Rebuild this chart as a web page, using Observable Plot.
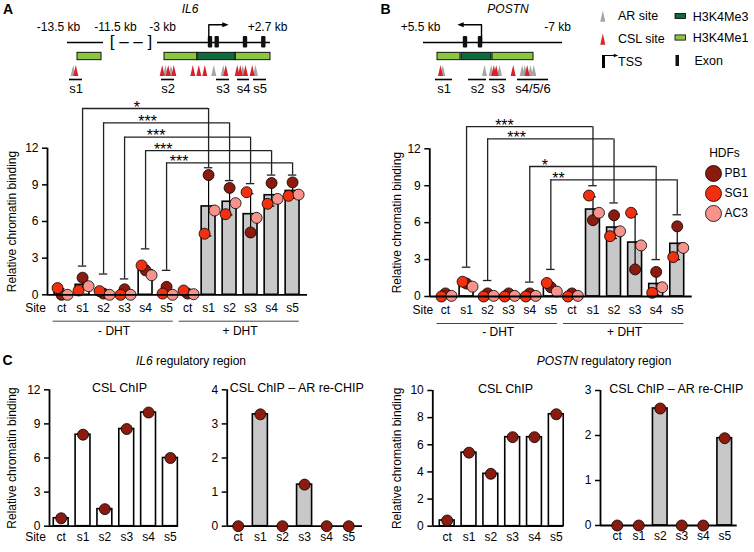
<!DOCTYPE html>
<html><head><meta charset="utf-8">
<script src="https://cdn.jsdelivr.net/npm/d3@7"></script>
<script src="https://cdn.jsdelivr.net/npm/@observablehq/plot@0.6"></script>
<style>
body{margin:0;background:#fff}
#fig{position:relative;width:754px;height:552px;font-family:"Liberation Sans",Arial,Helvetica,sans-serif;color:#000;overflow:hidden;background:#fff}
.lbl{position:absolute;font-size:12px;white-space:nowrap;line-height:1;transform:translate(-50%,-50%)}
.letter{font-weight:bold;font-size:14px}
svg g[aria-label="y-axis tick"] path{stroke-width:1.5}
</style></head><body><div id="fig"></div>
<script>
// ---------------- data ----------------
const donors = ["PB1", "SG1", "AC3"];
const donorColors = ["#8b1a0f", "#f2300f", "#f6938c"];
const sites = ["ct", "s1", "s2", "s3", "s4", "s5"];
const treatments = ["- DHT", "+ DHT"];

// Panel A: IL6, per donor; order -DHT ct..s5, +DHT ct..s5
const il6PB1 = [0.0, 1.4, 0.1, 0.45, 2.0, 0.65, 0.1, 9.8, 8.75, 5.1, 9.15, 9.2];
const il6SG1 = [0.55, 0.35, 0.3, 0.0, 2.4, 0.1, 0.35, 5.0, 6.6, 8.4, 7.45, 8.1];
const il6AC3 = [0.0, 0.7, 0.0, 0.0, 1.6, 0.0, 0.05, 6.9, 7.5, 6.3, 7.85, 8.2];
const il6BracketSites = [1, 2, 3, 4, 5];
const il6BracketTop = [15.25, 14.07, 12.9, 11.8, 10.8];
const il6CapMinus = [2.35, 1.7, 1.3, 3.76, 2.0];
const il6CapPlus = [10.4, 9.35, 9.1, 9.8, 9.8];
const il6Stars = ["*", "***", "***", "***", "***"];
const il6StarPos = [0.43, 0.35, 0.25, 0.14, 0.1];

// Panel B: POSTN
const postnPB1 = [0.25, 1.05, 0.25, 0.25, 0.25, 0.75, 0.25, 6.2, 6.6, 2.2, 2.0, 5.7];
const postnSG1 = [0.0, 1.2, 0.0, 0.0, 0.0, 1.1, 0.0, 8.2, 4.9, 6.8, 0.3, 3.2];
const postnAC3 = [0.05, 0.8, 0.05, 0.05, 0.05, 0.4, 0.05, 6.8, 5.3, 4.15, 0.75, 3.95];
const postnBracketSites = [1, 2, 4, 5];
const postnBracketTop = [13.8, 12.8, 10.56, 9.48];
const postnCapMinus = [2.38, 1.3, 1.17, 2.2];
const postnCapPlus = [9.0, 7.6, 3.0, 6.64];
const postnStars = ["***", "***", "*", "**"];
const postnStarPos = [0.3, 0.23, 0.12, 0.06];

const dhtTicks = [0, 3, 6, 9, 12];

// Panel C
const cIl6Csl = [0.7, 8.05, 1.5, 8.55, 10.0, 6.0];
const cIl6Re = [0, 3.28, 0, 1.22, 0, 0];
const cPostnCsl = [0.42, 5.42, 3.86, 6.56, 6.56, 8.25];
const cPostnRe = [0, 0, 2.6, 0, 0, 1.94];
const cIl6CslTicks = [0, 3, 6, 9, 12];
const cIl6ReTicks = [0, 1, 2, 3, 4];
const cPostnCslTicks = [0, 2, 4, 6, 8, 10];
const cPostnReTicks = [0, 1, 2, 3];

// Gene schematics (schematic positions along the drawn locus)
const il6Backbone = [[67, 103], [157, 270]];
const il6Exons = [210, 216.7, 245, 263.3];
const il6Boxes = [{x1: 77, x2: 101, m: "H3K4Me1"}, {x1: 164, x2: 197, m: "H3K4Me1"}, {x1: 197, x2: 235, m: "H3K4Me3"}, {x1: 235, x2: 270, m: "H3K4Me1"}];
const il6AR = [72.7, 165, 170.5, 213.3, 222.7, 242.3, 255];
const il6CSL = [75.3, 161.7, 167.7, 173.3, 192.3, 198.3, 204.3, 225.3, 236.7, 239.8, 245, 251.7];
const il6Amplicons = [{n: "s1", x1: 69, x2: 82}, {n: "s2", x1: 161, x2: 174}, {n: "s3", x1: 216, x2: 229}, {n: "s4", x1: 237, x2: 249}, {n: "s5", x1: 253, x2: 266}];
const il6Coords = [{t: "-13.5 kb", x: 58}, {t: "-11.5 kb", x: 115}, {t: "-3 kb", x: 162}, {t: "+2.7 kb", x: 267}];
const il6Tss = [{x: 208.3, y: 41}, {x: 208.3, y: 24.3}, {x: 225, y: 24.3}];

const postnBackbone = [[423, 562]];
const postnExons = [465, 480];
const postnBoxes = [{x1: 437, x2: 460, m: "H3K4Me1"}, {x1: 461, x2: 491, m: "H3K4Me3"}, {x1: 492, x2: 533, m: "H3K4Me1"}];
const postnAR = [442.3, 484, 490.7, 499, 521.7, 524.3, 530, 533.3];
const postnCSL = [440, 493.3, 495.7, 512.7, 526.7];
const postnAmplicons = [{n: "s1", x1: 435, x2: 452}, {n: "s2", x1: 468, x2: 486}, {n: "s3", x1: 489, x2: 506}, {n: "s4/5/6", x1: 517, x2: 548}];
const postnCoords = [{t: "+5.5 kb", x: 420}, {t: "-7 kb", x: 557}];
const postnTss = [{x: 481, y: 41}, {x: 481, y: 24.3}, {x: 460, y: 24.3}];

// ---------------- helpers ----------------
const fig = document.getElementById("fig");
const FONT = '"Liberation Sans", Arial, Helvetica, sans-serif';
const baseStyle = {background: "transparent", fontSize: "12px", fontFamily: FONT, overflow: "visible", color: "black"};
function place(node, left, top, w) {
  const div = document.createElement("div");
  div.style.cssText = `position:absolute;left:${left}px;top:${top}px;width:${w}px`;
  div.appendChild(node);
  fig.appendChild(div);
}
function label(html, x, y, cls = "") {
  const s = document.createElement("div");
  s.className = "lbl " + cls;
  s.style.left = x + "px"; s.style.top = y + "px";
  s.innerHTML = html;
  fig.appendChild(s);
}
const tallTriangle = {draw(ctx, size) { const r = Math.sqrt(size / Math.PI); ctx.moveTo(0, -r); ctx.lineTo(0.45 * r, r); ctx.lineTo(-0.45 * r, r); ctx.closePath(); }};
const headRight = {draw(ctx, size) { const r = Math.sqrt(size / Math.PI); ctx.moveTo(r, 0); ctx.lineTo(-r, -0.8 * r); ctx.lineTo(-r, 0.8 * r); ctx.closePath(); }};
const headLeft = {draw(ctx, size) { const r = Math.sqrt(size / Math.PI); ctx.moveTo(-r, 0); ctx.lineTo(r, -0.8 * r); ctx.lineTo(r, 0.8 * r); ctx.closePath(); }};
const GREY = "#c8c8c8", DARKG = "#0f6b3c", LIGHTG = "#8cc63e", ARC = "#a5a5a5", CSLC = "#d9232b";
const dotDx = [0, -4, 6];
const fmt = d => String(d);

// ---------------- panels A/B ----------------
function dhtChart(vals, br, L) {
  const idx = d3.range(12);
  const mean = idx.map(i => d3.mean(vals, v => v[i]));
  const sd = idx.map(i => d3.deviation(vals.map(v => v[i])));
  const yMax = dhtTicks[dhtTicks.length - 1];
  return Plot.plot({
    width: L.width, height: L.height,
    marginLeft: L.ml, marginRight: L.mr, marginTop: L.mt, marginBottom: L.mb,
    x: {domain: L.xd, axis: null},
    y: {domain: [0, yMax], ticks: dhtTicks, tickFormat: fmt, tickSize: 5, tickPadding: 4, label: null},
    style: baseStyle,
    marks: [
      Plot.rectY(idx.slice(0, 6), {x1: i => i - 0.33, x2: i => i + 0.33, y1: 0, y2: i => mean[i], fill: "white", stroke: "black", strokeWidth: 1.6}),
      Plot.rectY(idx.slice(6), {x1: i => i - 0.33, x2: i => i + 0.33, y1: 0, y2: i => mean[i], fill: GREY, stroke: "black", strokeWidth: 1.6}),
      Plot.ruleX(idx, {x: i => i, y1: i => Math.max(0, mean[i] - sd[i]), y2: i => mean[i] + sd[i], strokeWidth: 1.2}),
      Plot.ruleY(idx, {y: i => mean[i] + sd[i], x1: i => i - 0.16, x2: i => i + 0.16, strokeWidth: 1.2}),
      Plot.ruleY(idx.slice(6), {y: i => Math.max(0, mean[i] - sd[i]), x1: i => i - 0.16, x2: i => i + 0.16, strokeWidth: 1.2}),
      // significance brackets
      Plot.ruleY(br, {y: d => d.top, x1: d => d.s, x2: d => d.s + 6, stroke: "#222", strokeWidth: 1.3}),
      Plot.ruleX(br, {x: d => d.s, y1: d => d.c1, y2: d => d.top, stroke: "#222", strokeWidth: 1.3}),
      Plot.ruleX(br, {x: d => d.s + 6, y1: d => d.c2, y2: d => d.top, stroke: "#222", strokeWidth: 1.3}),
      Plot.ruleY(br, {y: d => d.c1, x1: d => d.s - 0.2, x2: d => d.s + 0.2, stroke: "#222", strokeWidth: 1.3}),
      Plot.ruleY(br, {y: d => d.c2, x1: d => d.s + 5.8, x2: d => d.s + 6.2, stroke: "#222", strokeWidth: 1.3}),
      Plot.text(br, {x: d => d.s + d.f * 6, y: d => d.top, text: d => d.star, fontSize: 16, dy: -1}),
      // donors
      ...donors.map((d, k) => Plot.dot(idx, {x: i => i, y: i => vals[k][i], r: 5.5, fill: donorColors[k], stroke: "black", strokeWidth: 0.8, dx: dotDx[k]})),
      // axes
      Plot.ruleY([0], {strokeWidth: 1.8}),
      Plot.ruleX([L.xd[0]], {y1: 0, y2: yMax, strokeWidth: 1.8}),
      Plot.text(idx, {x: i => i, text: i => sites[i % 6], frameAnchor: "bottom", dy: 17.4}),
      Plot.text(["Site"], {frameAnchor: "bottom-left", textAnchor: "middle", dx: L.siteDx, dy: 17.4}),
      Plot.ruleY(treatments, {y: 0, x1: (t, k) => k * 6 - 0.4, x2: (t, k) => k * 6 + 5.32, dy: L.lineDy, stroke: "#444", strokeWidth: 1}),
      Plot.text(treatments, {x: (t, k) => k * 6 + 2.5, y: 0, text: t => t, dy: L.labDy}),
      Plot.text(["Relative chromatin binding"], {frameAnchor: "left", textAnchor: "middle", dx: L.ylabDx, rotate: -90})
    ]
  });
}
function brackets(sitesIdx, top, c1, c2, stars, pos) {
  return sitesIdx.map((s, k) => ({s, top: top[k], c1: c1[k], c2: c2[k], star: stars[k], f: pos[k]}));
}

place(dhtChart([il6PB1, il6SG1, il6AC3],
  brackets(il6BracketSites, il6BracketTop, il6CapMinus, il6CapPlus, il6Stars, il6StarPos),
  {width: 330, height: 250, ml: 47, mr: 23, mt: 52.7, mb: 50.7, xd: [-0.67, 11.71], siteDx: -12, ylabDx: -35, lineDy: 26.4, labDy: 36.7}), 0, 95, 330);

place(dhtChart([postnPB1, postnSG1, postnAC3],
  brackets(postnBracketSites, postnBracketTop, postnCapMinus, postnCapPlus, postnStars, postnStarPos),
  {width: 322, height: 250, ml: 49.3, mr: 10.3, mt: 48.3, mb: 54, xd: [-0.745, 11.71], siteDx: -7, ylabDx: -32.6, lineDy: 27, labDy: 36}), 380, 100, 322);

// HDF legend
place(Plot.plot({
  width: 59, height: 85, marginLeft: 18, marginRight: 0, marginTop: 0, marginBottom: 0,
  y: {domain: [-1, 2], range: [13, 73], axis: null},
  style: baseStyle,
  marks: [
    Plot.text(["HDFs"], {y: () => -1, frameAnchor: "left", textAnchor: "middle", dx: 11}),
    ...donors.map((d, k) => Plot.dot([d], {y: () => k, frameAnchor: "left", r: 8, fill: donorColors[k], stroke: "black", strokeWidth: 0.8})),
    Plot.text(donors, {y: (d, k) => k, text: d => d, frameAnchor: "left", dx: 11, textAnchor: "start"})
  ]
}), 695, 140, 59);

// ---------------- gene schematics + legend ----------------
function geneMarks(g) {
  return [
    Plot.ruleY(g.backbone, {y: 42, x1: d => d[0], x2: d => d[1], strokeWidth: 1.4}),
    Plot.rect(g.exons, {x1: d => d - 2.2, x2: d => d + 2.2, y1: 36, y2: 47.5, fill: "#111", rx: 1}),
    Plot.line(g.tss, {x: "x", y: "y", strokeWidth: 1.4}),
    Plot.dot([g.tss[2]], {x: "x", y: "y", r: 3.2, symbol: g.head, fill: "black"}),
    Plot.rect(g.boxes, {filter: d => d.m === "H3K4Me1", x1: "x1", x2: "x2", y1: 52.3, y2: 59.7, fill: LIGHTG, stroke: "black", strokeWidth: 0.9}),
    Plot.rect(g.boxes, {filter: d => d.m === "H3K4Me3", x1: "x1", x2: "x2", y1: 52.3, y2: 59.7, fill: DARKG, stroke: "black", strokeWidth: 0.9}),
    Plot.dot(g.ar, {x: d => d, y: 70, r: 5.6, symbol: tallTriangle, fill: ARC}),
    Plot.dot(g.csl, {x: d => d, y: 70, r: 5.6, symbol: tallTriangle, fill: CSLC}),
    Plot.ruleY(g.amps, {y: 79, x1: "x1", x2: "x2", strokeWidth: 1.6}),
    Plot.text(g.amps, {x: d => (d.x1 + d.x2) / 2, y: 88.5, text: "n", fontSize: 13}),
    Plot.text(g.coords, {x: "x", y: 26.5, text: "t", fontSize: 12})
  ];
}
const legendSym = [{t: "AR site", y: 15.6, c: ARC}, {t: "CSL site", y: 38.6, c: CSLC}];
const legendBox = [{t: "H3K4Me3", y: 16, c: DARKG}, {t: "H3K4Me1", y: 37.5, c: LIGHTG}];
place(Plot.plot({
  width: 754, height: 100, marginLeft: 0, marginRight: 0, marginTop: 0, marginBottom: 0,
  x: {domain: [0, 754], range: [0, 754], axis: null},
  y: {domain: [0, 100], range: [0, 100], axis: null},
  style: baseStyle,
  marks: [
    ...geneMarks({backbone: il6Backbone, exons: il6Exons, tss: il6Tss, head: headRight, boxes: il6Boxes, ar: il6AR, csl: il6CSL, amps: il6Amplicons, coords: il6Coords}),
    Plot.text(["[ – – ]"], {x: 130.5, y: 41, fontSize: 17}),
    ...geneMarks({backbone: postnBackbone, exons: postnExons, tss: postnTss, head: headLeft, boxes: postnBoxes, ar: postnAR, csl: postnCSL, amps: postnAmplicons, coords: postnCoords}),
    // legend
    Plot.dot(legendSym, {x: 602.3, y: "y", r: 5.6, symbol: tallTriangle, fill: "c"}),
    Plot.text(legendSym, {x: 617.5, y: "y", text: "t", textAnchor: "start", fontSize: 12.5}),
    Plot.rect(legendBox, {x1: 675, x2: 685.5, y1: d => d.y - 2.6, y2: d => d.y + 2.6, fill: "c", stroke: "black", strokeWidth: 0.8}),
    Plot.text(legendBox, {x: 692.3, y: "y", text: "t", textAnchor: "start", fontSize: 12.5}),
    Plot.ruleX([603], {y1: 55, y2: 68, strokeWidth: 3}),
    Plot.ruleY([55], {x1: 603, x2: 614, strokeWidth: 1}),
    Plot.dot([{x: 615.5, y: 55}], {x: "x", y: "y", r: 2.2, symbol: headRight, fill: "black"}),
    Plot.text(["TSS"], {x: 617.5, y: 61, textAnchor: "start", fontSize: 12.5}),
    Plot.rect(["Exon"], {x1: 675.5, x2: 679, y1: 55, y2: 66, fill: "#111"}),
    Plot.text(["Exon"], {x: 694, y: 60.5, textAnchor: "start", fontSize: 12.5})
  ]
}), 0, 0, 754);

// ---------------- panel C ----------------
function cChart(vals, ticks, fill, L) {
  const idx = d3.range(6);
  const yMax = ticks[ticks.length - 1];
  return Plot.plot({
    width: L.width, height: 190, marginLeft: L.ml, marginRight: L.mr, marginTop: L.mt, marginBottom: L.mb,
    x: {domain: L.xd, axis: null},
    y: {domain: [0, yMax], ticks, tickFormat: fmt, tickSize: 5, tickPadding: 4, label: null},
    style: baseStyle,
    marks: [
      Plot.rectY(idx, {x1: i => i - 0.34, x2: i => i + 0.34, y1: 0, y2: i => vals[i], fill, stroke: "black", strokeWidth: 1.6}),
      Plot.ruleY([0], {strokeWidth: 1.8}),
      Plot.ruleX([L.xd[0]], {y1: 0, y2: yMax, strokeWidth: 1.8}),
      Plot.dot(idx, {x: i => i, y: i => vals[i], r: 5.5, fill: donorColors[0], stroke: "black", strokeWidth: 0.8}),
      Plot.text(idx, {x: i => i, text: i => sites[i], frameAnchor: "bottom", dy: 14.5}),
      Plot.text([L.title], {frameAnchor: "top", dx: L.tdx, dy: -6.2, fontSize: 12.5}),
      L.site ? Plot.text(["Site"], {frameAnchor: "bottom-left", textAnchor: "middle", dx: -14, dy: 14.5}) : null,
      L.ylab ? Plot.text(["Relative chromatin binding"], {frameAnchor: "left", textAnchor: "middle", dx: L.ylab, rotate: -90}) : null
    ]
  });
}
const C1 = "CSL ChIP", C2 = "CSL ChIP – AR re-CHIP";
place(cChart(cIl6Csl, cIl6CslTicks, "white", {width: 183, ml: 49, mr: 5, mt: 24.3, mb: 29.3, xd: [-0.535, 5.37], title: C1, tdx: 5.5, site: true, ylab: -37}), 0, 365, 183);
place(cChart(cIl6Re, cIl6ReTicks, GREY, {width: 182, ml: 41.7, mr: 5, mt: 24.3, mb: 29.3, xd: [-0.5, 5.62], title: C2, tdx: 2, site: false}), 185, 365, 182);
place(cChart(cPostnCsl, cPostnCslTicks, "white", {width: 188, ml: 52.3, mr: 5, mt: 25, mb: 29.3, xd: [-0.66, 5.33], title: C1, tdx: 7.4, site: false, ylab: -35.6}), 380, 365, 188);
place(cChart(cPostnRe, cPostnReTicks, GREY, {width: 172, ml: 30, mr: 5.3, mt: 25, mb: 30, xd: [-0.78, 5.58], title: C2, tdx: 7.5, site: false}), 570, 365, 172);

// ---------------- titles ----------------
label("A", 8, 8.5, "letter");
label("B", 385.5, 8.5, "letter");
label("C", 7.5, 360, "letter");
label("<i>IL6</i>", 190, 8.5);
label("<i>POSTN</i>", 508, 8.5);
label("<i>IL6</i> regulatory region", 191, 361);
label("<i>POSTN</i> regulatory region", 604, 361);
</script></body></html>
